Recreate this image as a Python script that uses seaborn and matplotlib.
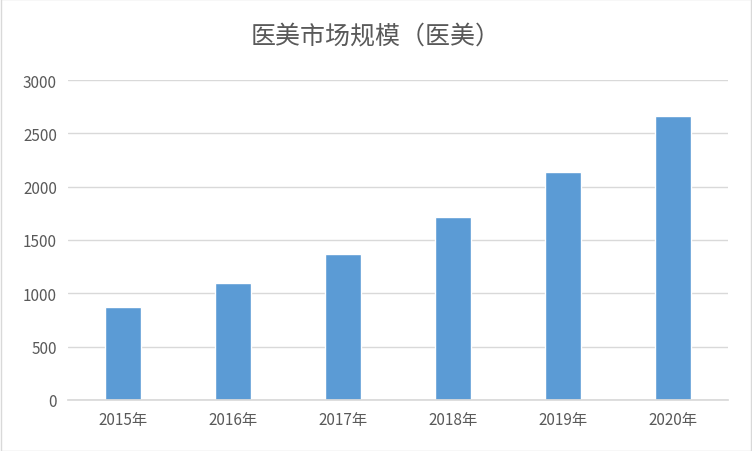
import matplotlib
matplotlib.use("Agg")
import matplotlib.pyplot as plt
import seaborn as sns
import pandas as pd

years = ["2015年", "2016年", "2017年", "2018年", "2019年", "2020年"]
values = [872, 1097, 1369, 1716, 2137, 2662]
yticks = [0, 500, 1000, 1500, 2000, 2500, 3000]

sns.set_theme(style="white")
plt.rcParams['font.family'] = ['Noto Sans CJK SC', 'DejaVu Sans']

fig = plt.figure(figsize=(7.52, 4.52), dpi=100)
ax = fig.add_axes([68/752, 51/452, 660/752, 320/452])
df = pd.DataFrame({"year": years, "value": values})
sns.barplot(data=df, x="year", y="value", color="#5B9BD5", saturation=1, width=0.32, ax=ax)
ax.set_ylim(0, 3000)
ax.set_yticks(yticks)
ax.yaxis.grid(True, color="#D9D9D9", linewidth=1)
ax.set_axisbelow(True)
for s in ["top", "right", "left"]:
    ax.spines[s].set_visible(False)
ax.spines["bottom"].set_color("#D9D9D9")
ax.tick_params(axis="both", colors="#595959", labelsize=11, length=0, pad=8)
ax.set_xlabel("")
ax.set_ylabel("")
fig.text(0.5, 1 - 37/452, "医美市场规模（医美）", ha="center", va="center", fontsize=18, color="#595959")
fig.patches.append(plt.Rectangle((0.001, 0.001), 0.998, 0.998, transform=fig.transFigure, fill=False, edgecolor="#D9D9D9", linewidth=1))
fig.savefig("out.png", dpi=100)
